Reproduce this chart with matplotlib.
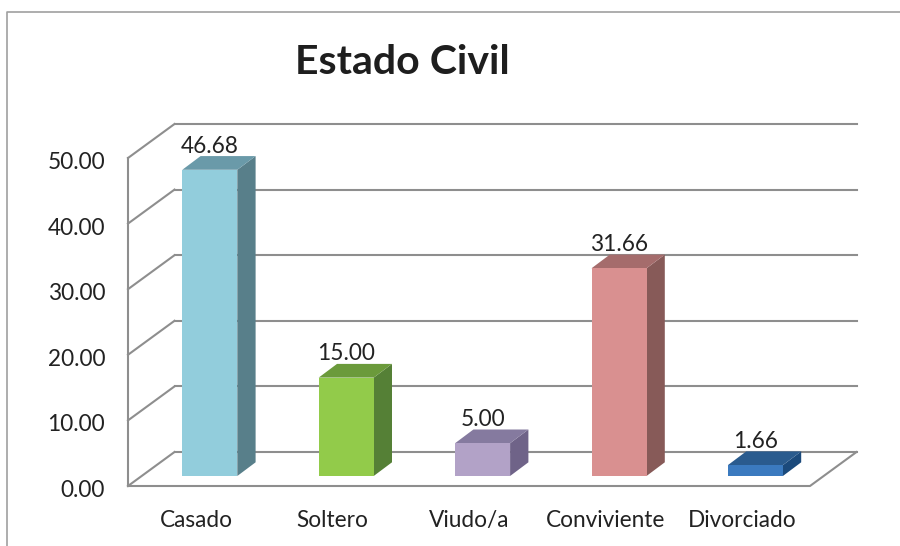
import numpy as np
from matplotlib import pyplot as plt
from matplotlib.lines import Line2D
from matplotlib.transforms import Affine2D

categorias = ['Casado', 'Soltero', 'Viudo/a', 'Conviviente', 'Divorciado']
valores = [46.68, 15.00, 5.00, 31.66, 1.66]
etiquetas_y = [0, 10, 20, 30, 40, 50]
titulo = 'Estado Civil'

color_frente = ['#92CDDC', '#92CB4A', '#B2A2C7', '#D99090', '#3B7ABF']
color_lado = ['#587F8A', '#558036', '#6F6388', '#875A58', '#1B4A7C']
color_tapa = ['#6A9AA9', '#6B9A3B', '#857A9F', '#A56C6C', '#2A5B8E']
gris = '#8E8E8E'

W, H = 900, 546
plt.rcParams['font.family'] = ['Lato', 'DejaVu Sans']
fig = plt.figure(figsize=(W / 100, H / 100), dpi=100)
# plano frontal del grafico, en pixeles de la imagen
ax = fig.add_axes([128 / W, (H - 486) / H, 682 / W, 328 / H])
ax.set_xlim(0, 5)
ax.set_ylim(0, 50)
ax.patch.set_visible(False)
for s in ax.spines.values():
    s.set_visible(False)


def desp(dx, dy):
    return ax.transData + Affine2D().translate(dx, dy)


# profundidad de la pared y de las barras (px)
px_x = 5 / 682
px_y = 50 / 328
ancho = 55 * px_x
PX, PY = 46.5, 34
BX, BY = 13.6, 10
TX, TY = 18.3, 13.7

# paredes y rejilla
for v in etiquetas_y:
    ax.plot([0, 5], [v, v], color=gris, lw=1.5, transform=desp(PX, PY), clip_on=False, zorder=1)
    ax.plot([0, PX * px_x], [v, v + PY * px_y], color=gris, lw=1.5, clip_on=False, zorder=1)
ax.plot([0, 0], [0, 50], color=gris, lw=1.5, clip_on=False, zorder=1)
ax.plot([0, 5, 5 + PX * px_x], [0, 0, PY * px_y], color=gris, lw=1.5, clip_on=False, zorder=1)

# barras
xs = np.arange(len(valores)) + 0.5
ax.bar(xs, valores, width=ancho, color=color_frente, transform=desp(BX, BY), zorder=3, clip_on=False)
dx_t = TX * px_x
dy_t = TY * px_y
for x, v, cl, ct in zip(xs, valores, color_lado, color_tapa):
    x0, x1 = x - ancho / 2, x + ancho / 2
    ax.fill([x1, x1 + dx_t, x1 + dx_t, x1], [0, dy_t, v + dy_t, v], color=cl, lw=0,
            transform=desp(BX, BY), zorder=2, clip_on=False)
    ax.fill([x0, x1, x1 + dx_t, x0 + dx_t], [v, v, v + dy_t, v + dy_t], color=ct, lw=0,
            transform=desp(BX, BY), zorder=2, clip_on=False)
    ax.annotate('%.2f' % v, (x, v), xytext=(10, 24.3), textcoords='offset points', ha='center', va='center',
                fontsize=16.3, color='#222222', zorder=4)

ax.set_yticks(etiquetas_y)
ax.set_yticklabels(['%.2f' % v for v in etiquetas_y], fontsize=16.3, color='#222222')
ax.set_xticks(xs)
ax.set_xticklabels(categorias, fontsize=16.3, color='#222222')
ax.tick_params(axis='y', length=0, pad=16.5)
ax.tick_params(axis='x', length=0, pad=17)
for t in ax.get_yticklabels():
    t.set_transform(t.get_transform() + Affine2D().translate(0, -2.5))

# titulo y marco
fig.text(402 / W, (H - 62) / H, titulo, fontsize=29.5, fontweight='bold', color='#1E1E1E', ha='center', va='center')
fig.add_artist(Line2D([7 / W, 7 / W, 1], [0, (H - 12) / H, (H - 12) / H], color='#A0A0A0', lw=1.2))

fig.savefig('out.png', dpi=100)
